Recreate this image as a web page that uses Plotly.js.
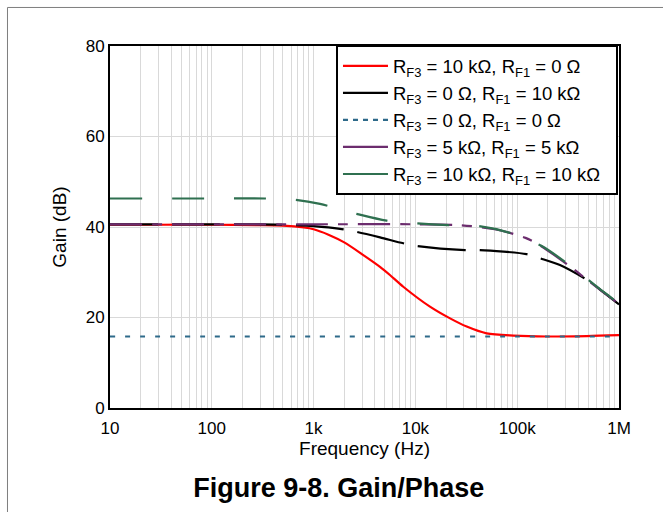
<!DOCTYPE html>
<html>
<head>
<meta charset="utf-8">
<script src="https://cdn.plot.ly/plotly-3.0.1.min.js"></script>
<style>
  html, body { margin: 0; padding: 0; background: #ffffff; }
  #chart { width: 663px; height: 512px; }
</style>
</head>
<body>
<div id="chart"></div>
<script>
// ---- Data (frequency in Hz, gain in dB) ----
const seriesNames = [
  'R<sub>F3</sub> = 10 kΩ, R<sub>F1</sub> = 0 Ω',
  'R<sub>F3</sub> = 0 Ω, R<sub>F1</sub> = 10 kΩ',
  'R<sub>F3</sub> = 0 Ω, R<sub>F1</sub> = 0 Ω',
  'R<sub>F3</sub> = 5 kΩ, R<sub>F1</sub> = 5 kΩ',
  'R<sub>F3</sub> = 10 kΩ, R<sub>F1</sub> = 10 kΩ'
];

const redFreq = [10, 30, 100, 276, 500, 800, 1000, 1400, 2000, 3080, 4490, 5620, 7600, 13900, 21900, 31900, 50100, 91600, 195000, 482000, 1000000];
const redGain = [40.5, 40.5, 40.5, 40.4, 40.3, 39.9, 39.5, 38.3, 36.6, 33.8, 31.2, 29.4, 26.8, 22.4, 19.8, 18.0, 16.5, 16.0, 15.8, 15.9, 16.1];

const blackFreq = [10, 100, 300, 682, 1000, 1817, 2550, 4490, 7600, 10300, 30700, 43100, 124000, 167500, 263000, 519000, 700000, 1000000];
const blackGain = [40.6, 40.6, 40.6, 40.4, 40.2, 39.6, 39.0, 37.7, 36.4, 35.8, 34.9, 34.9, 34.0, 33.1, 31.6, 27.9, 25.6, 22.9];

const tealFreq = [10, 100, 1000, 10000, 100000, 1000000];
const tealGain = [15.8, 15.8, 15.8, 15.8, 15.8, 15.8];

const purpleFreq = [10, 100, 1000, 10000, 27400, 60000, 120700, 174000, 343000, 482000, 700000, 1000000];
const purpleGain = [40.6, 40.6, 40.6, 40.6, 40.4, 39.5, 37.6, 35.7, 31.0, 28.4, 25.6, 23.0];

const greenFreq = [10, 100, 333, 656, 1156, 2650, 5224, 10300, 21000, 41500, 84900, 174000, 343000, 701000, 1000000];
const greenGain = [46.3, 46.3, 46.3, 46.0, 45.1, 42.9, 41.4, 40.8, 40.4, 40.2, 38.7, 35.8, 31.2, 25.7, 23.1];

const xTickVals = [10, 100, 1000, 10000, 100000, 1000000];
const xTickText = ['10', '100', '1k', '10k', '100k', '1M'];
const yTickVals = [0, 20, 40, 60, 80];

const seriesColors = ['#ff0000', '#000000', '#2e6a8a', '#6c2d6e', '#2f7050'];
const plotDashes = ['solid', '48px,14px', '5px,10px', '32px,10px,10px,10px', '32px,30px'];
const legendDashes = ['solid', 'solid', '5px,5px', 'solid', 'solid'];

const FONT = 'Liberation Sans, Arial, Helvetica, sans-serif';

const freqs = [redFreq, blackFreq, tealFreq, purpleFreq, greenFreq];
const gains = [redGain, blackGain, tealGain, purpleGain, greenGain];

const data = [];
// curves (drawn in legend order: red, black, teal, purple, green)
for (let i = 0; i < 5; i++) {
  data.push({
    x: freqs[i], y: gains[i], name: seriesNames[i], type: 'scatter', mode: 'lines',
    line: { color: seriesColors[i], width: 2.2, dash: plotDashes[i], shape: 'spline', smoothing: 0.8 },
    showlegend: false, hoverinfo: 'skip'
  });
}
// legend entries (legend samples use the reference's key styles)
for (let i = 0; i < 5; i++) {
  data.push({
    x: [null], y: [null], name: seriesNames[i] + '\u00a0\u00a0', type: 'scatter', mode: 'lines',
    line: { color: seriesColors[i], width: 2.2, dash: legendDashes[i] },
    showlegend: true, hoverinfo: 'skip'
  });
}

const layout = {
  width: 663, height: 512,
  margin: { l: 110, r: 44, t: 46, b: 104, pad: 0 },
  paper_bgcolor: '#ffffff', plot_bgcolor: '#ffffff',
  font: { family: FONT, size: 17, color: '#000000' },
  showlegend: true,
  title: {
    text: '<b>Figure 9-8. Gain/Phase</b>',
    font: { family: FONT, size: 27, color: '#000000' },
    xref: 'container', yref: 'container',
    x: 0.511, xanchor: 'center', y: 0.0475, yanchor: 'middle'
  },
  xaxis: {
    type: 'log', range: [1, 6],
    tickvals: xTickVals, ticktext: xTickText,
    ticks: '', showline: true, linecolor: '#000000', linewidth: 2, mirror: true,
    showgrid: true, gridcolor: '#d9d9d9', gridwidth: 1,
    minor: { dtick: 'D1', showgrid: true, gridcolor: '#d9d9d9', gridwidth: 1, ticks: '' },
    zeroline: false,
    tickfont: { family: FONT, size: 17 },
    ticklabelstandoff: 4,
    title: { text: 'Frequency (Hz)', font: { family: FONT, size: 19 }, standoff: 0 },
    automargin: false
  },
  yaxis: {
    range: [0, 80], tickvals: yTickVals,
    ticks: '', showline: true, linecolor: '#000000', linewidth: 2, mirror: true,
    showgrid: true, gridcolor: '#d9d9d9', gridwidth: 1,
    zeroline: false,
    tickfont: { family: FONT, size: 17 },
    title: { text: 'Gain (dB)', font: { family: FONT, size: 19 }, standoff: 14 },
    automargin: false
  },
  legend: {
    x: 0.998, xanchor: 'right', y: 1.002, yanchor: 'top',
    bgcolor: '#ffffff', bordercolor: '#000000', borderwidth: 2,
    font: { family: FONT, size: 18.5 },
    itemwidth: 45, traceorder: 'normal', tracegroupgap: 0
  },
  shapes: [
    { type: 'line', xref: 'paper', yref: 'paper', x0: -0.2014, x1: -0.2014, y0: -0.30, y1: 1.1064,
      line: { color: '#7f7f7f', width: 1 } },
    { type: 'line', xref: 'paper', yref: 'paper', x0: -0.2014, x1: 1.09, y0: 1.1064, y1: 1.1064,
      line: { color: '#7f7f7f', width: 1 } }
  ]
};

Plotly.newPlot('chart', data, layout, { displayModeBar: false, staticPlot: true });
</script>
</body>
</html>
